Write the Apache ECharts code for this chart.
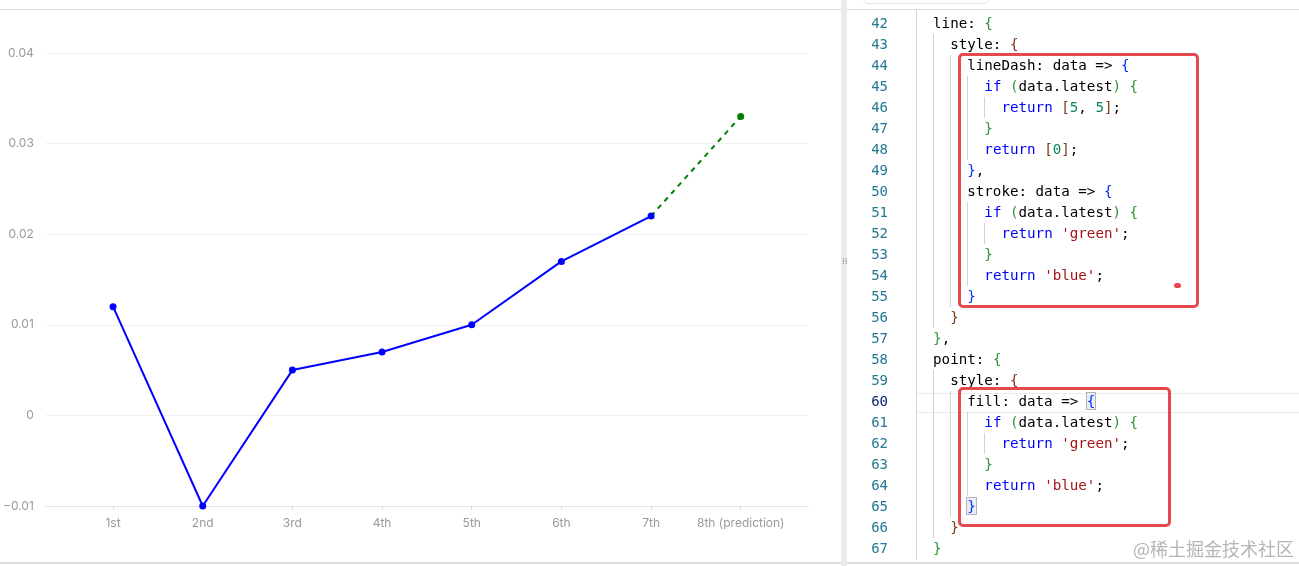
<!DOCTYPE html>
<html><head><meta charset="utf-8">
<script src="https://cdn.jsdelivr.net/npm/echarts@6/dist/echarts.min.js"></script>
<style>
html,body{margin:0;padding:0;width:1299px;height:566px;overflow:hidden;background:#fff;}
#chart{position:absolute;left:0;top:0;width:840px;height:566px;}
.hl{position:absolute;background:#e2e2e2;}
#code{position:absolute;left:848px;top:10px;width:451px;height:552px;overflow:hidden;}
.ln{position:absolute;width:40px;text-align:right;font-family:"DejaVu Sans Mono",monospace;font-size:14px;color:#237893;line-height:21px;}
.cl{position:absolute;white-space:pre;font-family:"DejaVu Sans Mono",monospace;font-size:14.2px;color:#000;line-height:21px;}
.g{color:#319331}.b{color:#0431fa}.br{color:#7b3814}.k{color:#0000ff}.n{color:#098658}.s{color:#a31515}
.guide{position:absolute;width:1px;background:#d3d3d3;}
.box{position:absolute;border:3px solid #e5484d;border-radius:5px;box-sizing:border-box;}
</style></head>
<body>
<div id="chart"></div>
<div class="hl" style="left:0;top:9px;width:1299px;height:1px;background:#dcdcdc"></div>
<div class="hl" style="left:0;top:562px;width:1299px;height:2px;background:#dcdcdc"></div>
<div class="hl" style="left:841px;top:0;width:6px;height:566px;background:#ebebeb"></div>
<div style="position:absolute;left:842px;top:259px;font-size:9px;line-height:4px;color:#888;font-family:'DejaVu Sans'">⁞⁞</div>
<div style="position:absolute;left:863px;top:-6px;width:124px;height:8px;border:1px solid #e4e4e4;border-radius:5px;"></div>
<div id="code"></div>
<div style="position:absolute;left:1133px;top:537px;font-family:'Noto Sans CJK SC';font-size:18px;line-height:22px;color:#b5b5b5;">@稀土掘金技术社区</div>
<script>
// ---- data ----
var categories = ['1st','2nd','3rd','4th','5th','6th','7th','8th (prediction)'];
var actualValues = [0.012, -0.01, 0.005, 0.007, 0.010, 0.017, 0.022];
var predictionValues = [0.022, 0.033]; // 7th -> 8th
var yTicks = [-0.01, 0, 0.01, 0.02, 0.03, 0.04];

var actualData = actualValues.map(function(v,i){return [i,v];});
var predData = predictionValues.map(function(v,i){return [actualValues.length-1+i, v];});
var catIdx = categories.map(function(c,i){return i;});

var chart = echarts.init(document.getElementById('chart'));
chart.setOption({
  animation:false,
  grid:{left:45,right:32,top:53,bottom:60,containLabel:false},
  xAxis:{
    type:'value', min:-0.75, max:7.75,
    splitLine:{show:false},
    axisLine:{show:true,onZero:false,lineStyle:{color:'#e3e3e3',width:1}},
    axisTick:{show:true,length:4,lineStyle:{color:'#dcdcdc'},customValues:catIdx},
    axisLabel:{color:'#9a9a9a',fontSize:12,margin:11,fontFamily:'Inter, sans-serif',
      customValues:catIdx,
      formatter:function(v){return categories[Math.round(v)];}}
  },
  yAxis:{
    type:'value', min:yTicks[0], max:yTicks[yTicks.length-1], interval:0.01,
    axisLine:{show:false}, axisTick:{show:false},
    splitLine:{lineStyle:{color:'#f0f0f0',width:1}},
    axisLabel:{color:'#9a9a9a',fontSize:12,margin:12,fontFamily:'Inter, sans-serif',
      formatter:function(v){var r=Math.round(v*100)/100; return r<0?'\u2212'+String(-r):String(r);}}
  },
  series:[
    {type:'line',data:predData,z:2,
     symbol:'circle',symbolSize:function(v,p){return p.dataIndex===0?0:7;},
     lineStyle:{color:'green',width:2,type:[5,5]},
     itemStyle:{color:'green'}},
    {type:'line',data:actualData,z:3,
     symbol:'circle',symbolSize:7,
     lineStyle:{color:'blue',width:2},
     itemStyle:{color:'blue'}}
  ]
});

// ---- code panel ----
var codeLines = [
 [42,'  line: <span class="g">{</span>'],
 [43,'    style: <span class="br">{</span>'],
 [44,'      lineDash: data =&gt; <span class="b">{</span>'],
 [45,'        <span class="k">if</span> <span class="g">(</span>data.latest<span class="g">)</span> <span class="g">{</span>'],
 [46,'          <span class="k">return</span> <span class="br">[</span><span class="n">5</span>, <span class="n">5</span><span class="br">]</span>;'],
 [47,'        <span class="g">}</span>'],
 [48,'        <span class="k">return</span> <span class="br">[</span><span class="n">0</span><span class="br">]</span>;'],
 [49,'      <span class="b">}</span>,'],
 [50,'      stroke: data =&gt; <span class="b">{</span>'],
 [51,'        <span class="k">if</span> <span class="g">(</span>data.latest<span class="g">)</span> <span class="g">{</span>'],
 [52,'          <span class="k">return</span> <span class="s">\'green\'</span>;'],
 [53,'        <span class="g">}</span>'],
 [54,'        <span class="k">return</span> <span class="s">\'blue\'</span>;'],
 [55,'      <span class="b">}</span>'],
 [56,'    <span class="br">}</span>'],
 [57,'  <span class="g">}</span>,'],
 [58,'  point: <span class="g">{</span>'],
 [59,'    style: <span class="br">{</span>'],
 [60,'      fill: data =&gt; <span class="b" style="outline:1px solid #b4b4b4;background:#e8eefa">{</span>'],
 [61,'        <span class="k">if</span> <span class="g">(</span>data.latest<span class="g">)</span> <span class="g">{</span>'],
 [62,'          <span class="k">return</span> <span class="s">\'green\'</span>;'],
 [63,'        <span class="g">}</span>'],
 [64,'        <span class="k">return</span> <span class="s">\'blue\'</span>;'],
 [65,'      <span class="b" style="outline:1px solid #b4b4b4;background:#e8eefa">}</span>'],
 [66,'    <span class="br">}</span>'],
 [67,'  <span class="g">}</span>']
];
var code = document.getElementById('code');
var html = '';
var ox = 848, oy = 10;
html += '<div style="position:absolute;left:'+(916-ox)+'px;top:'+(393-oy)+'px;width:500px;height:18px;border-top:1px solid #ececec;border-bottom:1px solid #ececec;"></div>';
var guides = [[916,0,560],[933,43,56],[950,44,55],[967,45,48],[967,51,54],[984,46,46],[984,52,52],[933,59,66],[950,60,65],[967,61,64],[984,62,62]];
guides.forEach(function(g){
  var t = 23 + 21*(g[1]-42) - 10.5, h = 21*(g[2]-g[1]+1);
  if (g[1]===0){t=0;h=560;}
  html += '<div class="guide" style="left:'+(g[0]-ox)+'px;top:'+(t-oy)+'px;height:'+h+'px"></div>';
});
codeLines.forEach(function(l){
  var y = 23 + 21*(l[0]-42) - 10.5 - oy;
  html += '<div class="ln" style="left:'+(848-ox)+'px;top:'+y+'px;'+(l[0]===60?'color:#0b216f;':'')+'">'+l[0]+'</div>';
  html += '<div class="cl" style="left:'+(916-ox)+'px;top:'+y+'px">'+l[1]+'</div>';
});
html += '<div class="box" style="left:'+(958-ox)+'px;top:'+(53-oy)+'px;width:241px;height:255px"></div>';
html += '<div class="box" style="left:'+(958-ox)+'px;top:'+(387-oy)+'px;width:213px;height:140px"></div>';
html += '<div style="position:absolute;left:'+(1174-ox)+'px;top:'+(283-oy)+'px;width:7px;height:5px;border-radius:3px;background:#e5484d"></div>';
code.innerHTML = html;
</script>
</body></html>
